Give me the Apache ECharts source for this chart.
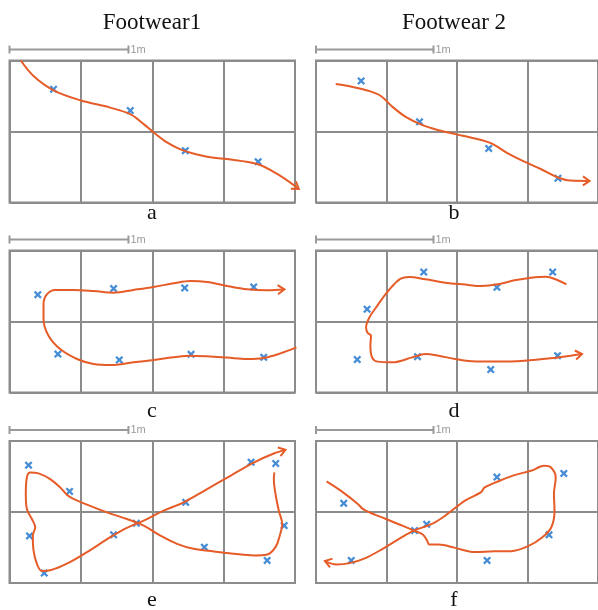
<!DOCTYPE html>
<html>
<head>
<meta charset="utf-8">
<script src="https://cdn.jsdelivr.net/npm/echarts@6/dist/echarts.min.js"></script>
<style>
html, body { margin: 0; padding: 0; background: #fff; }
#main { width: 598px; height: 610px; }
</style>
</head>
<body>
<div id="main"></div>
<script>
// walking trials, positions in metres (one floor tile = 0.6 m)
const columnTitles = ['Footwear1', 'Footwear 2']
const panelLabels = ['a', 'b', 'c', 'd', 'e', 'f']
const tileTicks = [0, 0.6, 1.2, 1.8, 2.4]
const scaleLength = 1

const walkA = [[0.095, 1.2], [0.202, 1.069], [0.37, 0.948], [0.595, 0.864], [0.847, 0.802], [1.015, 0.746],
  [1.128, 0.662], [1.212, 0.592], [1.324, 0.508], [1.464, 0.438], [1.661, 0.387], [1.829, 0.367],
  [2.081, 0.325], [2.25, 0.241], [2.432, 0.115]]
const marksA = [[0.37, 0.957], [1.015, 0.777], [1.478, 0.438], [2.09, 0.345]]

const walkB = [[0.168, 1.001], [0.314, 0.976], [0.454, 0.942], [0.552, 0.9], [0.651, 0.808], [0.763, 0.724],
  [0.903, 0.656], [1.043, 0.611], [1.184, 0.578], [1.352, 0.541], [1.492, 0.499], [1.633, 0.415],
  [1.773, 0.345], [1.913, 0.283], [2.053, 0.213], [2.165, 0.185], [2.328, 0.182]]
const marksB = [[0.384, 1.027], [0.881, 0.682], [1.47, 0.457], [2.059, 0.205]]

const walkC = [[2.412, 0.381], [2.278, 0.331], [2.137, 0.292], [1.997, 0.283], [1.829, 0.295], [1.661, 0.306],
  [1.52, 0.311], [1.38, 0.297], [1.212, 0.275], [1.043, 0.255], [0.847, 0.233], [0.707, 0.241],
  [0.567, 0.283], [0.426, 0.367], [0.328, 0.48], [0.286, 0.62], [0.286, 0.746], [0.314, 0.83],
  [0.384, 0.867], [0.539, 0.867], [0.707, 0.858], [0.875, 0.844], [1.043, 0.867], [1.212, 0.892],
  [1.38, 0.923], [1.52, 0.943], [1.661, 0.934], [1.829, 0.9], [1.997, 0.872], [2.166, 0.864], [2.311, 0.872]]
const marksC = [[0.238, 0.827], [0.875, 0.878], [1.473, 0.884], [2.053, 0.892],
  [0.407, 0.325], [0.923, 0.275], [1.526, 0.323], [2.137, 0.297]]

const walkD = [[2.132, 0.914], [2.053, 0.951], [1.955, 0.979], [1.829, 0.97], [1.689, 0.948], [1.548, 0.914],
  [1.408, 0.9], [1.268, 0.912], [1.1, 0.928], [0.931, 0.957], [0.791, 0.976], [0.721, 0.962],
  [0.651, 0.9], [0.581, 0.816], [0.511, 0.718], [0.454, 0.634], [0.426, 0.55], [0.44, 0.502],
  [0.468, 0.48], [0.463, 0.396], [0.477, 0.297], [0.524, 0.261], [0.651, 0.255], [0.819, 0.297],
  [0.931, 0.325], [1.043, 0.311], [1.184, 0.283], [1.324, 0.264], [1.548, 0.261], [1.773, 0.269],
  [1.997, 0.289], [2.166, 0.311], [2.264, 0.325]]
const marksD = [[0.917, 1.018], [2.014, 1.018], [1.54, 0.889], [0.435, 0.704],
  [0.351, 0.278], [0.864, 0.303], [1.487, 0.194], [2.056, 0.311]]

const walkE = [[2.227, 0.934], [2.222, 0.878], [2.236, 0.752], [2.264, 0.611], [2.292, 0.499], [2.272, 0.401],
  [2.236, 0.303], [2.166, 0.241], [2.053, 0.233], [1.885, 0.247], [1.717, 0.266], [1.548, 0.289],
  [1.408, 0.331], [1.268, 0.401], [1.128, 0.485], [0.987, 0.541], [0.819, 0.597], [0.651, 0.662],
  [0.525, 0.718], [0.482, 0.746], [0.426, 0.808], [0.342, 0.878], [0.244, 0.926], [0.174, 0.934],
  [0.146, 0.892], [0.137, 0.752], [0.146, 0.625], [0.188, 0.541], [0.216, 0.471], [0.196, 0.401],
  [0.202, 0.275], [0.23, 0.163], [0.272, 0.101], [0.342, 0.107], [0.482, 0.163], [0.651, 0.261],
  [0.847, 0.387], [0.987, 0.466], [1.128, 0.527], [1.296, 0.611], [1.464, 0.682], [1.661, 0.794],
  [1.857, 0.906], [2.053, 1.018], [2.222, 1.094], [2.32, 1.125]]
const marksE = [[0.16, 0.996], [0.505, 0.774], [0.168, 0.398], [0.292, 0.084], [0.875, 0.407], [1.066, 0.505],
  [1.481, 0.682], [2.031, 1.021], [2.238, 1.01], [2.309, 0.485], [1.638, 0.303], [2.166, 0.191]]

const walkF = [[0.09, 0.858], [0.23, 0.766], [0.356, 0.668], [0.398, 0.626], [0.454, 0.597], [0.595, 0.541],
  [0.735, 0.485], [0.833, 0.443], [0.909, 0.41], [0.945, 0.359], [0.965, 0.325], [1.043, 0.325],
  [1.184, 0.297], [1.352, 0.261], [1.52, 0.269], [1.661, 0.269], [1.801, 0.309], [1.927, 0.387],
  [2.003, 0.471], [2.03, 0.611], [2.025, 0.752], [2.04, 0.892], [2.0, 0.976], [1.941, 0.99],
  [1.829, 0.948], [1.689, 0.912], [1.548, 0.858], [1.436, 0.808], [1.402, 0.766], [1.268, 0.696],
  [1.1, 0.569], [0.987, 0.499], [0.833, 0.443], [0.707, 0.373], [0.567, 0.289], [0.426, 0.213],
  [0.286, 0.168], [0.174, 0.157], [0.076, 0.185]]
const marksF = [[0.236, 0.673], [0.3, 0.191], [0.839, 0.443], [0.942, 0.496],
  [1.54, 0.895], [2.109, 0.926], [1.983, 0.407], [1.456, 0.191]]

const walks = [walkA, walkB, walkC, walkD, walkE, walkF]
const marks = [marksA, marksB, marksC, marksD, marksE, marksF]

const pathColor = '#e65c28'
const markColor = '#1870cc'
const tileColor = '#8c8c8c'
const scaleColor = '#9a9a9a'

const colLeft = [9.5, 316]
const rowTop = [60.5, 250.5, 441]
const labelX = [152, 454]
const labelY = [213, 411, 600]
const boxW = 285.5
const boxH = 142

const crossSymbol = 'path://M2,0 L5,3 L8,0 L10,2 L7,5 L10,8 L8,10 L5,7 L2,10 L0,8 L3,5 L0,2 Z'

function renderArrow(params, api) {
  const a = api.coord([api.value(0), api.value(1)])
  const b = api.coord([api.value(2), api.value(3)])
  const ang = Math.atan2(b[1] - a[1], b[0] - a[0])
  const len = 8
  const spread = 0.6
  const p1 = [b[0] - len * Math.cos(ang - spread), b[1] - len * Math.sin(ang - spread)]
  const p2 = [b[0] - len * Math.cos(ang + spread), b[1] - len * Math.sin(ang + spread)]
  return {
    type: 'polyline',
    shape: { points: [p1, b, p2] },
    style: { stroke: pathColor, lineWidth: 2, fill: null }
  }
}

function renderScale(params, api) {
  const p0 = api.coord([api.value(0), 1.2])
  const p1 = api.coord([api.value(1), 1.2])
  const y = p0[1] - 11
  const st = { stroke: scaleColor, lineWidth: 2 }
  return {
    type: 'group',
    children: [
      { type: 'line', shape: { x1: p0[0], y1: y, x2: p1[0], y2: y }, style: st },
      { type: 'line', shape: { x1: p0[0], y1: y - 4, x2: p0[0], y2: y + 4 }, style: st },
      { type: 'line', shape: { x1: p1[0], y1: y - 4, x2: p1[0], y2: y + 4 }, style: st },
      { type: 'text', x: p1[0] + 2, y: y, style: { text: scaleLength + 'm', fill: scaleColor,
        font: '11px "Liberation Sans", Arial, sans-serif', verticalAlign: 'middle' } }
    ]
  }
}

const grids = []
const xAxes = []
const yAxes = []
const series = []
const graphics = []

for (let i = 0; i < 6; i++) {
  const col = i % 2
  const row = Math.floor(i / 2)
  grids.push({
    left: colLeft[col], top: rowTop[row], width: boxW, height: boxH,
    show: true, borderColor: tileColor, borderWidth: 2, backgroundColor: 'transparent'
  })
  xAxes.push({
    gridIndex: i, type: 'value', min: tileTicks[0], max: tileTicks[tileTicks.length - 1], interval: 0.6,
    axisLine: { show: false }, axisTick: { show: false }, axisLabel: { show: false },
    splitLine: { show: true, lineStyle: { color: tileColor, width: 2 } }
  })
  yAxes.push({
    gridIndex: i, type: 'value', min: 0, max: 1.2, interval: 0.6,
    axisLine: { show: false }, axisTick: { show: false }, axisLabel: { show: false },
    splitLine: { show: true, lineStyle: { color: tileColor, width: 2 } }
  })
  const walk = walks[i]
  series.push({
    type: 'line', xAxisIndex: i, yAxisIndex: i, data: walk, smooth: 0.35, clip: false,
    showSymbol: false, silent: true,
    lineStyle: { color: pathColor, width: 2 }
  })
  series.push({
    type: 'custom', xAxisIndex: i, yAxisIndex: i, renderItem: renderArrow, silent: true,
    data: [walk[walk.length - 2].concat(walk[walk.length - 1])]
  })
  series.push({
    type: 'scatter', xAxisIndex: i, yAxisIndex: i, data: marks[i], symbol: crossSymbol,
    symbolSize: 8, itemStyle: { color: markColor }, silent: true
  })
  series.push({
    type: 'custom', xAxisIndex: i, yAxisIndex: i, renderItem: renderScale, silent: true,
    data: [[0, scaleLength]]
  })
  graphics.push({
    type: 'text', x: labelX[col], y: labelY[row],
    style: { text: panelLabels[i], fill: '#111', font: '22px "Liberation Serif", "Times New Roman", serif',
      align: 'center', verticalAlign: 'middle' }
  })
}

columnTitles.forEach(function (t, c) {
  graphics.push({
    type: 'text', x: labelX[c], y: 23,
    style: { text: t, fill: '#111', font: '23px "Liberation Serif", "Times New Roman", serif',
      align: 'center', verticalAlign: 'middle' }
  })
})

const chart = echarts.init(document.getElementById('main'))
chart.setOption({
  animation: false,
  backgroundColor: '#fff',
  grid: grids,
  xAxis: xAxes,
  yAxis: yAxes,
  series: series,
  graphic: graphics
})
</script>
</body>
</html>
